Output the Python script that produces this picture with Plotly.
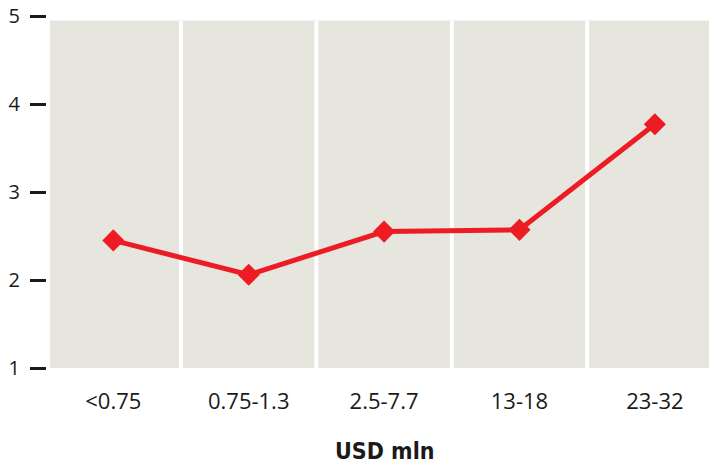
import plotly.graph_objects as go

# Deal size bands (USD mln) and the average value for each band
categories = ["<0.75", "0.75-1.3", "2.5-7.7", "13-18", "23-32"]
values = [2.45, 2.06, 2.55, 2.57, 3.77]
y_ticks = [1, 2, 3, 4, 5]

RED = "#ed1c24"
PANEL = "#e6e5de"
INK = "#1a1a1a"

fig = go.Figure()

fig.add_trace(go.Scatter(
    x=list(range(len(categories))),
    y=values,
    mode="lines+markers",
    line=dict(color=RED, width=5),
    marker=dict(symbol="diamond", size=17, color=RED),
    hoverinfo="skip",
    showlegend=False,
))

# Beige panel behind the data, split into one column per band by white gaps
n = len(categories)
fig.add_shape(type="rect", xref="x", yref="y",
              x0=-0.4675, x1=n, y0=1, y1=4.95,
              fillcolor=PANEL, line=dict(width=0), layer="below")
for i in range(n - 1):
    fig.add_shape(type="line", xref="x", yref="y",
                  x0=i + 0.5, x1=i + 0.5, y0=1, y1=4.95,
                  line=dict(color="white", width=4), layer="below")

fig.add_annotation(
    x=2, xref="x", y=-0.235, yref="paper",
    text="<b>USD mln</b>", showarrow=False,
    font=dict(family="DejaVu Sans Condensed, Liberation Sans Narrow, sans-serif",
              size=23, color=INK),
    yanchor="middle",
)

fig.update_layout(
    width=709, height=465,
    margin=dict(l=47, r=0, t=16, b=97),
    paper_bgcolor="white",
    plot_bgcolor="white",
    font=dict(family="Open Sans, sans-serif", color=INK),
    xaxis=dict(
        range=[-0.49, 4.4],
        tickvals=list(range(n)),
        ticktext=categories,
        tickfont=dict(size=22),
        showgrid=False, zeroline=False, showline=False,
        ticks="", ticklabelstandoff=18,
        fixedrange=True,
    ),
    yaxis=dict(
        range=[1, 5],
        tickvals=y_ticks,
        tickfont=dict(size=20),
        showgrid=False, zeroline=False, showline=False,
        ticks="outside", ticklen=16, tickwidth=3, tickcolor=INK,
        ticklabelstandoff=6,
        fixedrange=True,
    ),
)

fig.write_html("out.html")
